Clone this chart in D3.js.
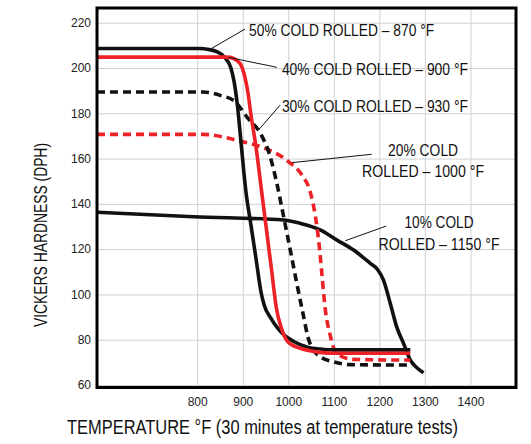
<!DOCTYPE html>
<html>
<head>
<meta charset="utf-8">
<script src="https://cdnjs.cloudflare.com/ajax/libs/d3/7.8.5/d3.min.js"></script>
<style>
  body { margin: 0; background: #fff; }
  .tick text { font-family: "Liberation Sans", Arial, sans-serif; font-size: 12px; fill: #222; }
  .grid line { stroke: #d0d0d0; stroke-width: 1; }
  .grid .domain { display: none; }
  .lbl { font-family: "Liberation Sans", Arial, sans-serif; fill: #111; }
</style>
</head>
<body>
<div id="plot"></div>
<script>
// tick values
var xTicks = [800, 900, 1000, 1100, 1200, 1300, 1400];
var yTicks = [60, 80, 100, 120, 140, 160, 180, 200, 220];

// 50% cold rolled - 870 F (black solid)
var temp50 = [580, 805, 825, 843, 860, 874, 881, 889, 896, 907, 918, 929, 940, 947, 962, 991, 1013, 1044, 1070, 1100, 1268];
var hard50 = [208.6, 208.6, 208.2, 207.2, 204.8, 200, 194, 182.3, 167.6, 145.4, 130.7, 116, 101.2, 95.3, 89.4, 82, 79.1, 76.6, 75.9, 75.5, 75.5];

// 40% cold rolled - 900 F (red solid)
var temp40 = [580, 865, 880, 889, 897, 903.5, 911, 918, 929.5, 940.6, 951.7, 962.9, 974, 985, 996, 1010, 1026, 1050, 1070, 1100, 1268];
var hard40 = [204.8, 204.8, 204.2, 203, 201, 197, 189.7, 179.4, 164.6, 146.9, 129.2, 111.5, 93.8, 85, 79.8, 77.5, 76.2, 75, 74.4, 74, 74];

// 30% cold rolled - 930 F (black dashed)
var temp30 = [580, 812, 852, 881, 911, 940.7, 959, 974, 989, 1003.6, 1018, 1033, 1044, 1055, 1070, 1099, 1136, 1268];
var hard30 = [189.4, 189.4, 187.8, 185.5, 177.9, 170.5, 161.7, 149.9, 135.1, 120.4, 105.6, 90.9, 80.5, 75.5, 72.5, 70.3, 69, 68.8];

// 20% cold rolled - 1000 F (red dashed)
var temp20 = [580, 812, 896, 948, 1000, 1029.6, 1048, 1059, 1067, 1074, 1081, 1092, 1106, 1143, 1268];
var hard20 = [170.7, 170.7, 167.6, 164.6, 158.7, 152.8, 145.4, 135.1, 123.3, 108.6, 93.8, 82, 74, 71.3, 71];

// 10% cold rolled - 1150 F (black solid)
var temp10 = [580, 792, 990, 1026, 1070, 1107, 1143.5, 1180, 1196, 1209, 1224, 1238, 1253, 1268, 1283, 1297];
var hard10 = [136.3, 134.3, 132.9, 131.4, 128.5, 124, 119.6, 113.7, 111, 106.3, 96, 85.7, 78.4, 71, 67.5, 65.4];

var series = [
  { temps: temp10, hard: hard10, color: "#111", dash: null },
  { temps: temp20, hard: hard20, color: "#ec2227", dash: "8,5" },
  { temps: temp30, hard: hard30, color: "#111", dash: "8,5" },
  { temps: temp50, hard: hard50, color: "#111", dash: null },
  { temps: temp40, hard: hard40, color: "#ec2227", dash: null }
];

// annotation text + leader line (in data units); len = text width seen in the picture
var notes = [
  { lines: ["50% COLD ROLLED \u2013 870 \u00B0F"], len: [185], tx: 914, ty: 216.5, anchor: "start", from: [832, 208.7], to: [905, 217.2] },
  { lines: ["40% COLD ROLLED \u2013 900 \u00B0F"], len: [186], tx: 986, ty: 199.4, anchor: "start", from: [869, 204.7], to: [975, 200.3] },
  { lines: ["30% COLD ROLLED \u2013 930 \u00B0F"], len: [186], tx: 986, ty: 182.9, anchor: "start", from: [934.6, 172.6], to: [982, 183.6] },
  { lines: ["20% COLD", "ROLLED \u2013 1000 \u00B0F"], len: [70, 122], tx: 1296, ty: 163.8, anchor: "middle", from: [1008, 158.2], to: [1183, 161.9] },
  { lines: ["10% COLD", "ROLLED \u2013 1150 \u00B0F"], len: [69, 121], tx: 1331, ty: 131.7, anchor: "middle", from: [1125, 123.7], to: [1215, 130.2] }
];

var margin = { top: 8, right: 15, bottom: 56.5, left: 97 };
var width = 531 - margin.left - margin.right,
  height = 444 - margin.top - margin.bottom;

var x = d3.scaleLinear().domain([580, 1500]).range([0, width]);
var y = d3.scaleLinear().domain([58.9, 226.5]).range([height, 0]);

var svg = d3.select("#plot").append("svg")
  .attr("width", 531)
  .attr("height", 444);

var g = svg.append("g")
  .attr("transform", "translate(" + margin.left + "," + margin.top + ")");

// grid
g.append("g")
  .attr("class", "grid")
  .attr("transform", "translate(0," + height + ")")
  .call(d3.axisBottom(x).tickValues(xTicks).tickSize(-height).tickFormat(""));
g.append("g")
  .attr("class", "grid")
  .call(d3.axisLeft(y).tickValues(yTicks).tickSize(-width).tickFormat(""));

// tick labels
var xAxis = g.append("g")
  .attr("transform", "translate(0," + height + ")")
  .call(d3.axisBottom(x).tickValues(xTicks).tickSize(0).tickPadding(10).tickFormat(d3.format("d")));
xAxis.select(".domain").remove();

var yAxis = g.append("g")
  .call(d3.axisLeft(y).tickValues(yTicks).tickSize(0).tickPadding(6).tickFormat(d3.format("d")));
yAxis.select(".domain").remove();

// curves
var line = d3.line()
  .curve(d3.curveMonotoneX)
  .x(function (d) { return x(d[0]); })
  .y(function (d) { return y(d[1]); });

series.forEach(function (s) {
  var pts = s.temps.map(function (t, i) { return [t, s.hard[i]]; });
  g.append("path")
    .datum(pts)
    .attr("d", line)
    .attr("fill", "none")
    .attr("stroke", s.color)
    .attr("stroke-width", 3.6)
    .attr("stroke-dasharray", s.dash);
});

// leaders and labels
notes.forEach(function (n) {
  g.append("line")
    .attr("x1", x(n.from[0])).attr("y1", y(n.from[1]))
    .attr("x2", x(n.to[0])).attr("y2", y(n.to[1]))
    .attr("stroke", "#111")
    .attr("stroke-width", 1);
  n.lines.forEach(function (t, i) {
    g.append("text")
      .attr("class", "lbl")
      .attr("x", x(n.tx))
      .attr("y", y(n.ty) + i * 21.6)
      .attr("dy", "0.35em")
      .attr("text-anchor", n.anchor)
      .attr("textLength", n.len[i])
      .attr("lengthAdjust", "spacingAndGlyphs")
      .style("font-size", "16.3px")
      .text(t);
  });
});

// frame
g.append("rect")
  .attr("width", width)
  .attr("height", height)
  .attr("fill", "none")
  .attr("stroke", "#000")
  .attr("stroke-width", 3);

// axis titles
svg.append("text")
  .attr("class", "lbl")
  .attr("x", 67)
  .attr("y", 434)
  .attr("textLength", 391)
  .attr("lengthAdjust", "spacingAndGlyphs")
  .style("font-size", "19.5px")
  .text("TEMPERATURE \u00B0F (30 minutes at temperature tests)");

svg.append("text")
  .attr("class", "lbl")
  .attr("transform", "translate(46.5,235) rotate(-90)")
  .attr("text-anchor", "middle")
  .attr("textLength", 184)
  .attr("lengthAdjust", "spacingAndGlyphs")
  .style("font-size", "18.5px")
  .text("VICKERS HARDNESS (DPH)");
</script>
</body>
</html>
